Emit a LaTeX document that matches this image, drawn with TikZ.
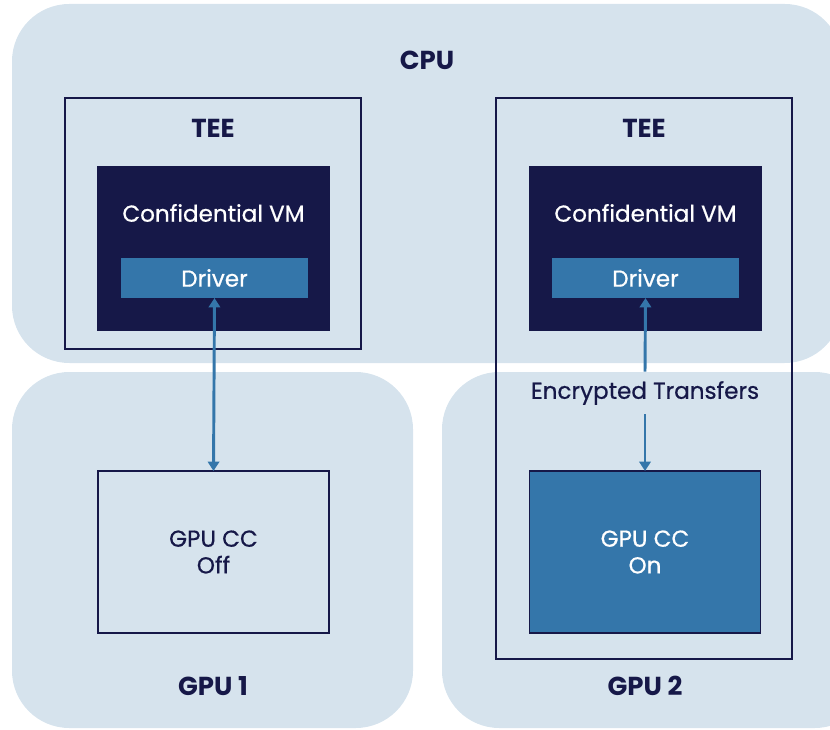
\documentclass[tikz,border=0pt]{standalone}
\usepackage{fontspec}
\setmainfont{Poppins}
\newfontfamily\medfont{Poppins}[FakeBold=0.6]
\usetikzlibrary{arrows.meta}
\definecolor{navy}{RGB}{22,24,72}
\definecolor{drvblue}{RGB}{52,118,170}
\definecolor{regionbg}{RGB}{214,227,237}

\begin{document}
\begin{tikzpicture}[x=0.75pt,y=-0.75pt,
		>={Triangle[width=8.5pt,length=7pt]},
		region/.style={fill=regionbg,rounded corners=43pt,inner sep=0pt,outer sep=0pt},
		frame/.style={draw=navy,line width=1pt,inner sep=0pt,outer sep=0pt},
		title/.style={text=navy,font=\fontsize{19.5}{22}\selectfont\bfseries},
		txt/.style={text=navy,font=\fontsize{17.3}{20}\medfont},
		wtxt/.style={text=white,font=\fontsize{17.3}{20}\medfont},
		link/.style={draw=drvblue,line width=2.2pt}]
		\useasboundingbox (0,0) rectangle (830,730);
		\clip (0,0) rectangle (830,730);
		\node[region,minimum width=622.5pt,minimum height=269.25pt] (cpu) at (427,183.5) {};
		\node[region,minimum width=300.75pt,minimum height=267pt] (gpuA) at (212.5,550) {};
		\node[region,minimum width=322.5pt,minimum height=267pt] (gpuB) at (657,550) {};
		\node[title] (cpulbl) at (427,60) {CPU};
		\node[title] (gpuAlbl) at (213,686) {GPU 1};
		\node[title] (gpuBlbl) at (645,686) {GPU 2};
		\node[frame,minimum width=222pt,minimum height=188.25pt] (teeA) at (213,223.5) {};
		\node[frame,minimum width=222pt,minimum height=420.75pt] (teeB) at (644,378.5) {};
		\node[title] (teeAlbl) at (213,128) {TEE};
		\node[title] (teeBlbl) at (644,128) {TEE};
		\node[frame,fill=navy,minimum width=173.25pt,minimum height=122.25pt] (cvmA) at (213.5,248.5) {};
		\node[frame,fill=navy,minimum width=173.25pt,minimum height=122.25pt] (cvmB) at (645.5,248.5) {};
		\node[wtxt] (cvmAlbl) at (213.5,213) {Confidential VM};
		\node[wtxt] (cvmBlbl) at (645.5,213) {Confidential VM};
		\node[fill=drvblue,inner sep=0pt,outer sep=0pt,minimum width=140.25pt,minimum height=30pt,wtxt] (drvA) at (214.5,278) {Driver};
		\node[fill=drvblue,inner sep=0pt,outer sep=0pt,minimum width=140.25pt,minimum height=30pt,wtxt] (drvB) at (645.5,278) {Driver};
		\node[frame,minimum width=173.25pt,minimum height=121.5pt,txt,align=center] (ccoff) at (213.5,552) {GPU CC\\Off};
		\node[frame,fill=drvblue,minimum width=173.25pt,minimum height=121.5pt,wtxt,align=center] (ccon) at (645,552) {GPU CC\\On};
		\node[txt,inner sep=0pt,minimum height=31.5pt] (enc) at (645,393) {Encrypted Transfers};
		\draw[link,<->] (drvA.south) -- (ccoff.north);
		\draw[link,<-] (drvB.south) -- (enc.north);
		\draw[link,->] (enc.south) -- (ccon.north);
\end{tikzpicture}
\end{document}
